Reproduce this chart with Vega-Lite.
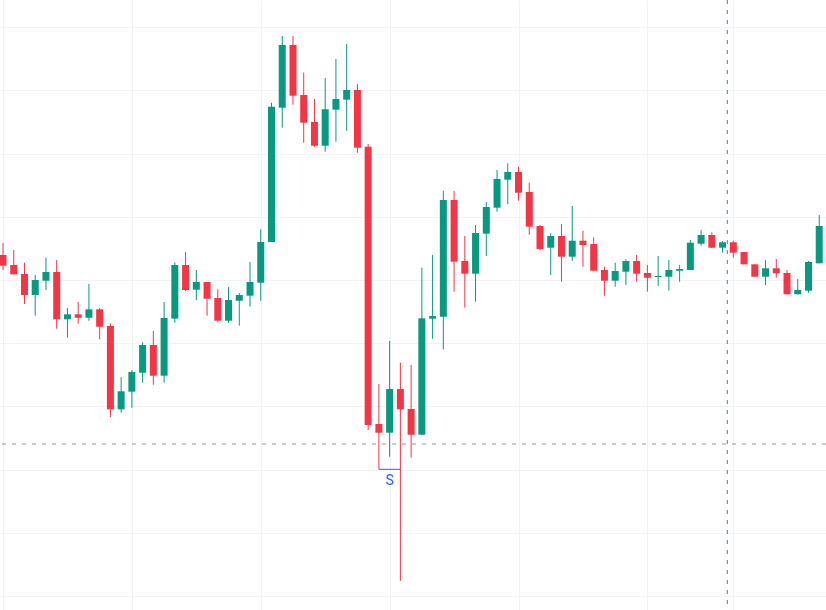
{
  "$schema": "https://vega.github.io/schema/vega-lite/v6.json",
  "description": "Candlestick chart with crosshair and an S marker.",
  "autosize": {"type": "none"},
  "width": 826,
  "height": 610,
  "padding": 0,
  "background": "#ffffff",
  "config": {
    "view": {"stroke": null},
    "axis": {"minExtent": 0, "labels": false, "ticks": false, "domain": false, "title": null, "gridColor": "#f0f3fa", "gridWidth": 1}
  },
  "datasets": {
    "candles": [
      {"i": 0, "open": 103.96, "high": 105.85, "low": 101.58, "close": 102.26},
      {"i": 1, "open": 102.37, "high": 104.75, "low": 100.87, "close": 100.90},
      {"i": 2, "open": 100.95, "high": 102.74, "low": 96.20, "close": 97.63},
      {"i": 3, "open": 97.63, "high": 100.79, "low": 94.35, "close": 100.00},
      {"i": 4, "open": 99.89, "high": 103.53, "low": 98.42, "close": 101.27},
      {"i": 5, "open": 101.27, "high": 103.16, "low": 92.29, "close": 93.78},
      {"i": 6, "open": 93.78, "high": 95.57, "low": 90.87, "close": 94.57},
      {"i": 7, "open": 94.57, "high": 96.52, "low": 93.09, "close": 94.03},
      {"i": 8, "open": 94.03, "high": 99.37, "low": 93.56, "close": 95.36},
      {"i": 9, "open": 95.36, "high": 95.57, "low": 90.62, "close": 92.61},
      {"i": 10, "open": 92.72, "high": 93.15, "low": 78.28, "close": 79.54},
      {"i": 11, "open": 79.54, "high": 84.65, "low": 79.00, "close": 82.39},
      {"i": 12, "open": 82.33, "high": 85.76, "low": 79.79, "close": 85.44},
      {"i": 13, "open": 85.33, "high": 90.14, "low": 83.75, "close": 89.72},
      {"i": 14, "open": 89.72, "high": 91.93, "low": 83.43, "close": 84.86},
      {"i": 15, "open": 84.86, "high": 96.52, "low": 83.75, "close": 93.99},
      {"i": 16, "open": 93.88, "high": 102.80, "low": 93.24, "close": 102.37},
      {"i": 17, "open": 102.37, "high": 104.43, "low": 98.26, "close": 98.42},
      {"i": 18, "open": 98.47, "high": 101.58, "low": 96.79, "close": 99.68},
      {"i": 19, "open": 99.68, "high": 99.68, "low": 94.35, "close": 97.04},
      {"i": 20, "open": 97.15, "high": 98.53, "low": 93.40, "close": 93.56},
      {"i": 21, "open": 93.56, "high": 98.89, "low": 93.24, "close": 96.84},
      {"i": 22, "open": 96.72, "high": 97.94, "low": 92.77, "close": 97.63},
      {"i": 23, "open": 97.52, "high": 102.85, "low": 95.78, "close": 99.68},
      {"i": 24, "open": 99.57, "high": 108.02, "low": 96.72, "close": 106.01},
      {"i": 25, "open": 106.01, "high": 128.05, "low": 106.01, "close": 127.42},
      {"i": 26, "open": 127.26, "high": 138.61, "low": 124.10, "close": 137.18},
      {"i": 27, "open": 137.18, "high": 138.61, "low": 127.74, "close": 129.16},
      {"i": 28, "open": 129.27, "high": 132.80, "low": 121.72, "close": 124.89},
      {"i": 29, "open": 125.00, "high": 128.64, "low": 121.09, "close": 121.25},
      {"i": 30, "open": 121.25, "high": 131.96, "low": 120.30, "close": 127.01},
      {"i": 31, "open": 126.95, "high": 134.97, "low": 121.88, "close": 128.64},
      {"i": 32, "open": 128.53, "high": 137.34, "low": 123.62, "close": 130.06},
      {"i": 33, "open": 130.06, "high": 131.01, "low": 120.14, "close": 120.93},
      {"i": 34, "open": 121.09, "high": 121.52, "low": 76.27, "close": 77.06},
      {"i": 35, "open": 77.22, "high": 83.54, "low": 70.05, "close": 75.84},
      {"i": 36, "open": 75.84, "high": 90.35, "low": 72.04, "close": 82.75},
      {"i": 37, "open": 82.75, "high": 86.91, "low": 52.42, "close": 79.54},
      {"i": 38, "open": 79.59, "high": 86.55, "low": 71.88, "close": 75.52},
      {"i": 39, "open": 75.52, "high": 101.95, "low": 75.52, "close": 93.94},
      {"i": 40, "open": 93.88, "high": 103.96, "low": 90.71, "close": 94.30},
      {"i": 41, "open": 94.19, "high": 114.13, "low": 89.03, "close": 112.66},
      {"i": 42, "open": 112.66, "high": 114.08, "low": 98.15, "close": 102.90},
      {"i": 43, "open": 103.01, "high": 106.96, "low": 95.62, "close": 101.00},
      {"i": 44, "open": 101.00, "high": 108.70, "low": 96.57, "close": 107.44},
      {"i": 45, "open": 107.33, "high": 112.34, "low": 103.80, "close": 111.55},
      {"i": 46, "open": 111.44, "high": 117.41, "low": 110.81, "close": 115.98},
      {"i": 47, "open": 115.87, "high": 118.47, "low": 111.98, "close": 117.09},
      {"i": 48, "open": 117.09, "high": 117.93, "low": 112.55, "close": 113.81},
      {"i": 49, "open": 113.92, "high": 115.40, "low": 107.17, "close": 108.43},
      {"i": 50, "open": 108.54, "high": 108.70, "low": 104.75, "close": 104.91},
      {"i": 51, "open": 105.11, "high": 107.39, "low": 100.79, "close": 106.96},
      {"i": 52, "open": 106.96, "high": 108.86, "low": 99.73, "close": 103.69},
      {"i": 53, "open": 103.69, "high": 111.71, "low": 103.01, "close": 106.22},
      {"i": 54, "open": 106.22, "high": 107.80, "low": 102.10, "close": 105.54},
      {"i": 55, "open": 105.70, "high": 106.76, "low": 101.47, "close": 101.47},
      {"i": 56, "open": 101.58, "high": 102.10, "low": 97.52, "close": 99.89},
      {"i": 57, "open": 99.89, "high": 102.74, "low": 98.94, "close": 101.42},
      {"i": 58, "open": 101.31, "high": 103.28, "low": 99.21, "close": 103.01},
      {"i": 59, "open": 103.01, "high": 103.96, "low": 99.73, "close": 101.00},
      {"i": 60, "open": 101.11, "high": 102.37, "low": 98.15, "close": 100.36},
      {"i": 61, "open": 100.47, "high": 103.80, "low": 99.05, "close": 100.63},
      {"i": 62, "open": 100.52, "high": 103.16, "low": 98.31, "close": 101.58},
      {"i": 63, "open": 101.47, "high": 102.37, "low": 99.73, "close": 101.74},
      {"i": 64, "open": 101.58, "high": 106.33, "low": 101.58, "close": 105.90},
      {"i": 65, "open": 105.74, "high": 107.91, "low": 105.43, "close": 107.12},
      {"i": 66, "open": 107.12, "high": 107.55, "low": 105.11, "close": 105.11},
      {"i": 67, "open": 105.11, "high": 106.17, "low": 104.32, "close": 105.97},
      {"i": 68, "open": 105.97, "high": 106.22, "low": 103.53, "close": 104.32},
      {"i": 69, "open": 104.43, "high": 104.43, "low": 102.48, "close": 102.48},
      {"i": 70, "open": 102.48, "high": 102.48, "low": 100.52, "close": 100.52},
      {"i": 71, "open": 100.52, "high": 103.16, "low": 99.21, "close": 101.85},
      {"i": 72, "open": 101.85, "high": 103.32, "low": 100.36, "close": 101.06},
      {"i": 73, "open": 101.11, "high": 101.58, "low": 97.74, "close": 97.74},
      {"i": 74, "open": 97.74, "high": 100.16, "low": 97.74, "close": 98.42},
      {"i": 75, "open": 98.31, "high": 103.01, "low": 97.99, "close": 102.85},
      {"i": 76, "open": 102.64, "high": 110.28, "low": 102.64, "close": 108.54}
    ],
    "crosshair": [
      {"i": 67.44, "price": 74.05}
    ],
    "marker": [
      {"start": 35, "end": 37, "mid": 36, "price": 70.05, "label": "S"}
    ]
  },
  "layer": [
    {
      "data": {"name": "candles"},
      "mark": {"type": "rule", "strokeWidth": 1},
      "encoding": {
        "x": {
          "field": "i", "type": "quantitative",
          "scale": {"domain": [-0.279, 76.63], "nice": false, "zero": false, "padding": 0},
          "axis": {"values": [0, 12, 24, 36, 48, 60, 68], "grid": true}
        },
        "y": {
          "field": "low", "type": "quantitative",
          "scale": {"domain": [47.79, 144.3], "nice": false, "zero": false, "padding": 0},
          "axis": {"values": [50, 55, 60, 65, 70, 75, 80, 85, 90, 95, 100, 105, 110, 115, 120, 125, 130, 135, 140], "grid": true}
        },
        "y2": {"field": "high"},
        "color": {
          "condition": {"test": "datum.close >= datum.open", "value": "#089981"},
          "value": "#f23645"
        }
      }
    },
    {
      "data": {"name": "candles"},
      "mark": {"type": "bar", "size": 7},
      "encoding": {
        "x": {"field": "i", "type": "quantitative", "scale": {"domain": [-0.279, 76.63], "nice": false, "zero": false, "padding": 0}},
        "y": {"field": "open", "type": "quantitative", "scale": {"domain": [47.79, 144.3], "nice": false, "zero": false, "padding": 0}},
        "y2": {"field": "close"},
        "color": {
          "condition": {"test": "datum.close >= datum.open", "value": "#089981"},
          "value": "#f23645"
        }
      }
    },
    {
      "data": {"name": "crosshair"},
      "mark": {"type": "rule", "strokeDash": [4, 6], "strokeWidth": 1, "color": "#9598a1"},
      "encoding": {
        "y": {"field": "price", "type": "quantitative", "scale": {"domain": [47.79, 144.3], "nice": false, "zero": false, "padding": 0}}
      }
    },
    {
      "data": {"name": "crosshair"},
      "mark": {"type": "rule", "strokeDash": [4, 6], "strokeWidth": 1, "color": "#4f77b8"},
      "encoding": {
        "x": {"field": "i", "type": "quantitative", "scale": {"domain": [-0.279, 76.63], "nice": false, "zero": false, "padding": 0}}
      }
    },
    {
      "data": {"name": "marker"},
      "mark": {"type": "rule", "strokeWidth": 1, "color": "#2962ff"},
      "encoding": {
        "x": {"field": "start", "type": "quantitative", "scale": {"domain": [-0.279, 76.63], "nice": false, "zero": false, "padding": 0}},
        "x2": {"field": "end"},
        "y": {"field": "price", "type": "quantitative", "scale": {"domain": [47.79, 144.3], "nice": false, "zero": false, "padding": 0}}
      }
    },
    {
      "data": {"name": "marker"},
      "mark": {"type": "text", "font": "Roboto", "fontSize": 14, "color": "#2962ff", "baseline": "middle", "align": "center", "dy": 12},
      "encoding": {
        "x": {"field": "mid", "type": "quantitative", "scale": {"domain": [-0.279, 76.63], "nice": false, "zero": false, "padding": 0}},
        "y": {"field": "price", "type": "quantitative", "scale": {"domain": [47.79, 144.3], "nice": false, "zero": false, "padding": 0}},
        "text": {"field": "label"}
      }
    }
  ]
}
